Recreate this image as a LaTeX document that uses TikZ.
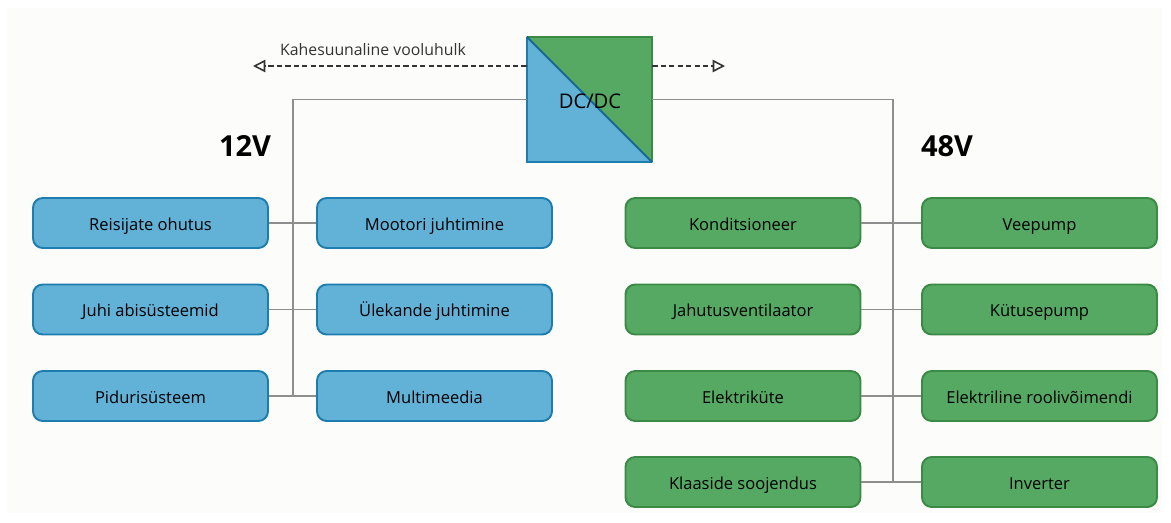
\documentclass[tikz,border=0pt]{standalone}
\usepackage{fontspec}
\setmainfont{Open Sans}
\usetikzlibrary{arrows.meta}
\definecolor{lowblue}{HTML}{62B1D7}
\definecolor{lowblueline}{HTML}{1D7DAE}
\definecolor{highgreen}{HTML}{55A962}
\definecolor{highgreenline}{HTML}{3A8944}
\definecolor{busgray}{HTML}{8E8E8E}
\definecolor{paper}{HTML}{FCFCFB}
\begin{document}
\begin{tikzpicture}[x=0.02cm, y=-0.02cm,
  load/.style={rectangle, draw, rounded corners=5.5pt, line width=1.1pt,
    minimum width=4.7cm, minimum height=1cm, text height=0.95em, text depth=0.15em,
    font=\fontsize{9.4}{11}\selectfont},
  lowload/.style={load, fill=lowblue, draw=lowblueline},
  highload/.style={load, fill=highgreen, draw=highgreenline},
  bus/.style={busgray, line width=1.1pt},
  flow/.style={-{Triangle[open, length=7pt, width=7pt]}, line width=0.9pt,
    dash pattern=on 3pt off 1.8pt, black!80},
  volt/.style={font=\fontsize{16.5}{18}\selectfont\bfseries}
]
  % page and background
  \useasboundingbox (0,0) rectangle (1171,522);
  \fill[paper] (7,8) rectangle (1162,513);

  % the converter
  \node[minimum size=2.5cm, inner sep=0pt] (dcdc) at (589.5,99.5) {};
  \fill[lowblue] (dcdc.north west) -- (dcdc.south east) -- (dcdc.south west) -- cycle;
  \fill[highgreen] (dcdc.north west) -- (dcdc.north east) -- (dcdc.south east) -- cycle;
  \draw[highgreenline, line width=1.1pt] (dcdc.north west) -- (dcdc.north east) -- (dcdc.south east);
  \draw[lowblueline, line width=1.1pt] (dcdc.north west) -- (dcdc.south west) -- (dcdc.south east);
  \draw[lowblueline!85!black, line width=1.1pt] (dcdc.north west) -- (dcdc.south east);
  \node[font=\fontsize{11.5}{13}\selectfont] (dcdclabel) at (590,101) {DC/DC};

  % bidirectional flow
  \coordinate (flowL) at (253,66);
  \coordinate (flowR) at (725,66);
  \draw[flow] (dcdc.west |- flowL) -- (flowL);
  \draw[flow] (dcdc.east |- flowR) -- (flowR);
  \node[font=\fontsize{9}{11}\selectfont, text=black!80] (flowlabel) at (373,50) {Kahesuunaline vooluhulk};

  % voltage levels
  \node[volt] (v12) at (245,146) {12V};
  \node[volt] (v48) at (947,146) {48V};

  % 12V loads
  \node[lowload] (l1) at (150.5,223) {Reisijate ohutus};
  \node[lowload] (l2) at (150.5,309.5) {Juhi abisüsteemid};
  \node[lowload] (l3) at (150.5,396) {Pidurisüsteem};
  \node[lowload] (m1) at (434.5,223) {Mootori juhtimine};
  \node[lowload] (m2) at (434.5,309.5) {Ülekande juhtimine};
  \node[lowload] (m3) at (434.5,396) {Multimeedia};

  % 48V loads
  \node[highload] (h1) at (743,223) {Konditsioneer};
  \node[highload] (h2) at (743,309.5) {Jahutusventilaator};
  \node[highload] (h3) at (743,396) {Elektriküte};
  \node[highload] (h4) at (743,482) {Klaaside soojendus};
  \node[highload] (k1) at (1039.5,223) {Veepump};
  \node[highload] (k2) at (1039.5,309.5) {Kütusepump};
  \node[highload] (k3) at (1039.5,396) {Elektriline roolivõimendi};
  \node[highload] (k4) at (1039.5,482) {Inverter};

  % 12V bus
  \coordinate (busL) at (293,396);
  \draw[bus] (dcdc.west) -| (busL);
  \draw[bus] (l1) -- (m1);
  \draw[bus] (l2) -- (m2);
  \draw[bus] (l3) -- (m3);

  % 48V bus
  \coordinate (busR) at (893,482);
  \draw[bus] (dcdc.east) -| (busR);
  \draw[bus] (h1) -- (k1);
  \draw[bus] (h2) -- (k2);
  \draw[bus] (h3) -- (k3);
  \draw[bus] (h4) -- (k4);
\end{tikzpicture}
\end{document}
